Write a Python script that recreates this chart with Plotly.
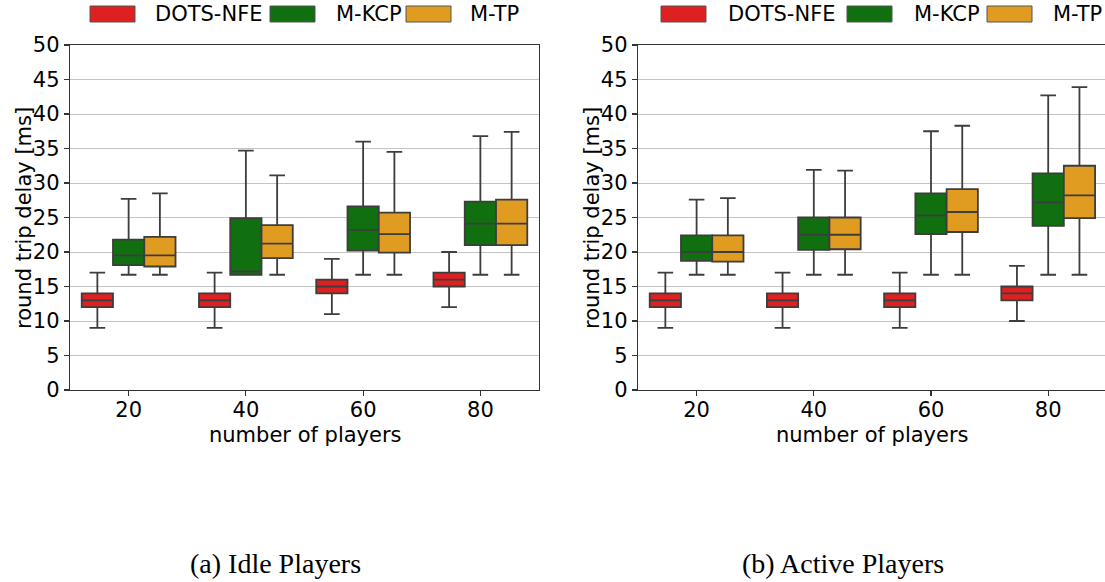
import plotly.graph_objects as go

players = ["20", "40", "60", "80"]
series = ["DOTS-NFE", "M-KCP", "M-TP"]
colors = ["#df2020", "#107010", "#df9c20"]

# Idle players
idle_lower = {"DOTS-NFE": [9, 9, 11, 12], "M-KCP": [16.7, 16.7, 16.7, 16.7], "M-TP": [16.7, 16.7, 16.7, 16.7]}
idle_q1 = {"DOTS-NFE": [12, 12, 14, 15], "M-KCP": [18.1, 16.7, 20.2, 21.0], "M-TP": [17.9, 19.1, 19.9, 21.0]}
idle_med = {"DOTS-NFE": [13, 13, 15, 16], "M-KCP": [19.5, 17.2, 23.2, 24.1], "M-TP": [19.5, 21.2, 22.6, 24.1]}
idle_q3 = {"DOTS-NFE": [14, 14, 16, 17], "M-KCP": [21.8, 24.9, 26.6, 27.3], "M-TP": [22.2, 23.9, 25.7, 27.6]}
idle_upper = {"DOTS-NFE": [17, 17, 19, 20], "M-KCP": [27.7, 34.7, 36.0, 36.8], "M-TP": [28.5, 31.1, 34.5, 37.4]}

# Active players
act_lower = {"DOTS-NFE": [9, 9, 9, 10], "M-KCP": [16.7, 16.7, 16.7, 16.7], "M-TP": [16.7, 16.7, 16.7, 16.7]}
act_q1 = {"DOTS-NFE": [12, 12, 12, 13], "M-KCP": [18.7, 20.3, 22.6, 23.8], "M-TP": [18.6, 20.4, 22.9, 24.9]}
act_med = {"DOTS-NFE": [13, 13, 13, 14], "M-KCP": [20.0, 22.5, 25.3, 27.2], "M-TP": [20.0, 22.5, 25.8, 28.2]}
act_q3 = {"DOTS-NFE": [14, 14, 14, 15], "M-KCP": [22.4, 25.0, 28.5, 31.4], "M-TP": [22.4, 25.0, 29.1, 32.5]}
act_upper = {"DOTS-NFE": [17, 17, 17, 18], "M-KCP": [27.6, 31.9, 37.5, 42.7], "M-TP": [27.8, 31.8, 38.3, 43.9]}

y_ticks = list(range(0, 51, 5))
captions = ["(a) Idle Players", "(b) Active Players"]
x_title = "number of players"
y_title = "round trip delay [ms]"

W, H = 1105, 582
FONT = "DejaVu Sans"
FS = 21
EDGE = "#3d3d3d"

fig = go.Figure()

panels = [
    ("x", "y", idle_lower, idle_q1, idle_med, idle_q3, idle_upper),
    ("x2", "y2", act_lower, act_q1, act_med, act_q3, act_upper),
]
for xa, ya, lo, q1, md, q3, up in panels:
    for s, c in zip(series, colors):
        fig.add_trace(go.Box(
            x=players, q1=q1[s], median=md[s], q3=q3[s],
            lowerfence=lo[s], upperfence=up[s],
            name=s, offsetgroup=s, xaxis=xa, yaxis=ya,
            fillcolor=c, line=dict(color=EDGE, width=1.8),
            whiskerwidth=0.5, showlegend=False, hoverinfo="skip",
        ))

def px_x(p):
    return p / W

def px_y(p):
    return 1 - p / H

cat_px = 117.2
left_dom = [px_x(70), px_x(539)]
right_dom = [px_x(638), 1.0]
ydom = [px_y(390), px_y(45)]
right_end = 3.5 - (638 + 4 * cat_px - W) / cat_px

axis_common = dict(
    automargin=False,
    showline=True, linecolor="#333333", linewidth=1.2,
    ticks="outside", ticklen=5, tickcolor="#333333", tickwidth=1.2,
    tickfont=dict(family=FONT, size=FS, color="black"),
)

fig.update_layout(
    width=W, height=H,
    margin=dict(l=0, r=0, t=0, b=0, pad=0),
    paper_bgcolor="white", plot_bgcolor="white",
    boxmode="group", boxgap=0.2, boxgroupgap=0.0,
    xaxis=dict(domain=left_dom, anchor="y", type="category", range=[-0.5, 3.5],
               mirror=True, showgrid=False, ticklabelstandoff=-4, **axis_common),
    yaxis=dict(domain=ydom, anchor="x", range=[0, 50], tickvals=y_ticks,
               mirror=True, showgrid=True, gridcolor="#c4c4c4", gridwidth=1,
               zeroline=False, **axis_common),
    xaxis2=dict(domain=right_dom, anchor="y2", type="category", range=[-0.5, right_end],
                mirror=True, showgrid=False, ticklabelstandoff=-4, **axis_common),
    yaxis2=dict(domain=ydom, anchor="x2", range=[0, 50], tickvals=y_ticks,
                mirror=False, showgrid=True, gridcolor="#c4c4c4", gridwidth=1,
                zeroline=False, **axis_common),
)

# Manual legends (patch + label), one above each panel
legend_layouts = [
    [(90, 153), (270, 334), (406, 468)],
    [(661, 726), (847, 912), (987, 1051)],
]
shapes = []
annotations = []
for layout_ in legend_layouts:
    for (px0, tx), s, c in zip(layout_, series, colors):
        shapes.append(dict(type="rect", xref="paper", yref="paper",
                           x0=px_x(px0), x1=px_x(px0 + 45), y0=px_y(22), y1=px_y(6),
                           fillcolor=c, line=dict(color="#555555", width=1)))
        annotations.append(dict(xref="paper", yref="paper", x=px_x(tx), y=px_y(14),
                                xanchor="left", yanchor="middle", showarrow=False,
                                text=s, font=dict(family=FONT, size=FS, color="black")))

# Axis titles
for cx in [305, 872]:
    annotations.append(dict(xref="paper", yref="paper", x=px_x(cx), y=px_y(435),
                            xanchor="center", yanchor="middle", showarrow=False,
                            text=x_title, font=dict(family=FONT, size=FS, color="black")))
for cx in [24, 592]:
    annotations.append(dict(xref="paper", yref="paper", x=px_x(cx), y=px_y(218),
                            xanchor="center", yanchor="middle", showarrow=False, textangle=-90,
                            text=y_title, font=dict(family=FONT, size=FS, color="black")))

for cx, cap in zip([275, 843], captions):
    annotations.append(dict(xref="paper", yref="paper", x=px_x(cx), y=px_y(563),
                            xanchor="center", yanchor="middle", showarrow=False,
                            text=cap, font=dict(family="Liberation Serif", size=28, color="black")))

fig.update_layout(shapes=shapes, annotations=annotations)

fig.write_html(
    "out.html",
    config={"displayModeBar": False, "staticPlot": True},
    post_script="document.body.style.margin='0';document.body.style.overflow='hidden';",
)
